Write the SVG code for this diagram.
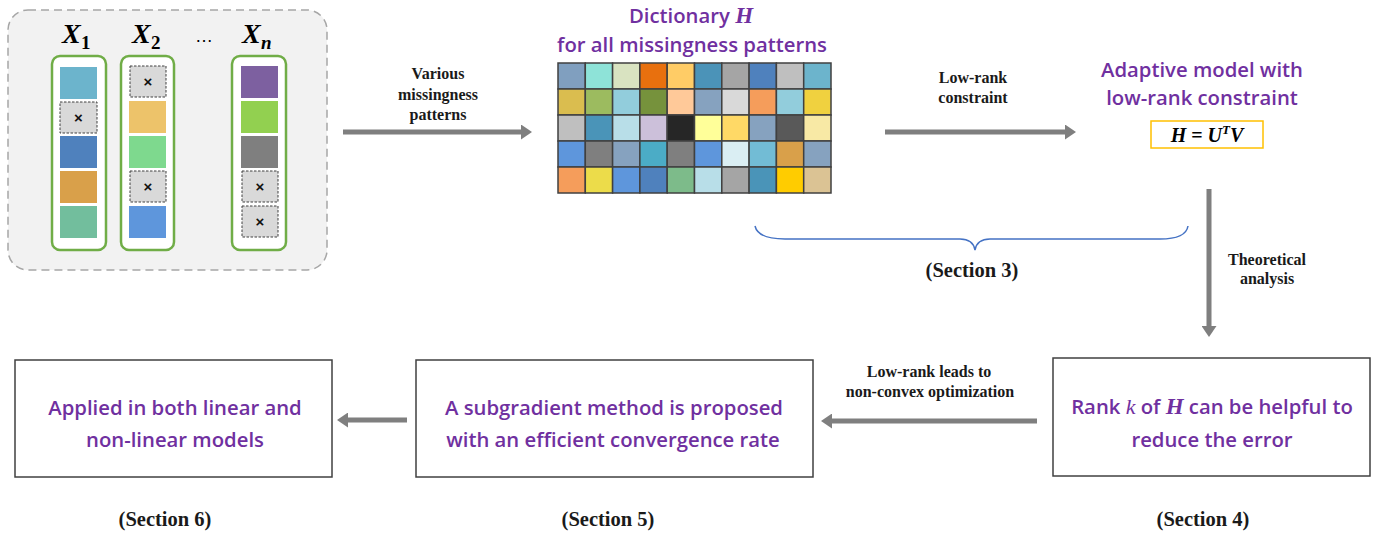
<svg xmlns="http://www.w3.org/2000/svg" width="1374" height="533" viewBox="0 0 1374 533">
<style>
.p{font-family:"Open Sans","Noto Sans",sans-serif;font-size:20.3px;font-weight:600;fill:#7030A0}
.lb{font-family:"Liberation Serif",serif;font-weight:bold;font-size:16px;fill:#1a1a1a}
.sec{font-family:"Liberation Serif",serif;font-weight:bold;font-size:20.5px;fill:#1a1a1a}
.m{font-family:"Liberation Serif",serif;font-weight:bold;font-style:italic}
.mi{font-family:"Liberation Serif",serif;font-style:italic;font-weight:normal}
.col{fill:#ffffff;stroke:#70AD47;stroke-width:2.5}
.miss{fill:#D9D9D9;stroke:#404040;stroke-width:1;stroke-dasharray:2.5,1.5}
.x{font-family:"Liberation Sans",sans-serif;font-size:15px;font-weight:bold;fill:#111;text-anchor:middle}
.c{stroke:#404040;stroke-width:1.5}
.box{fill:#ffffff;stroke:#404040;stroke-width:1.5}
.arr{stroke:#7F7F7F;stroke-width:5;fill:none}
</style>
<defs>
<marker id="ah" markerUnits="userSpaceOnUse" viewBox="0 0 11 15" refX="1" refY="7.5" markerWidth="11" markerHeight="15" orient="auto">
<path d="M0,0 L11,7.5 L0,15 z" fill="#7F7F7F"/>
</marker>
</defs>
<rect width="1374" height="533" fill="#ffffff"/>

<g id="input-panel">
<rect x="8" y="10" width="319" height="260" rx="20" fill="#F2F2F2" stroke="#A6A6A6" stroke-width="1.5" stroke-dasharray="8,5"/>
<text x="62" y="43" class="m" font-size="28">X</text><text x="81" y="49" font-family="Liberation Serif" font-weight="bold" font-size="19">1</text>
<text x="132" y="43" class="m" font-size="28">X</text><text x="151" y="49" font-family="Liberation Serif" font-weight="bold" font-size="19">2</text>
<text x="204" y="42" font-family="Liberation Sans" font-size="18" text-anchor="middle">…</text>
<text x="242" y="43" class="m" font-size="28">X</text><text x="261" y="49" class="m" font-size="19">n</text>
<rect class="col" x="52" y="56" width="54" height="194" rx="8"/>
<rect x="60" y="67" width="37" height="32" fill="#6CB4CC"/>
<rect class="miss" x="60" y="102" width="37" height="31"/><text class="x" x="78.5" y="123">×</text>
<rect x="60" y="136" width="37" height="32" fill="#4F81BD"/>
<rect x="60" y="171" width="37" height="32" fill="#D9A04A"/>
<rect x="60" y="206" width="37" height="32" fill="#72BE9D"/>
<rect class="col" x="121" y="56" width="53" height="194" rx="8"/>
<rect class="miss" x="130" y="66" width="36" height="31"/><text class="x" x="148" y="87">×</text>
<rect x="129" y="101" width="37" height="32" fill="#EDC36A"/>
<rect x="129" y="136" width="37" height="32" fill="#7ED98E"/>
<rect class="miss" x="130" y="171" width="36" height="31"/><text class="x" x="148" y="192">×</text>
<rect x="129" y="206" width="37" height="32" fill="#5E96DC"/>
<rect class="col" x="232" y="56" width="54" height="194" rx="8"/>
<rect x="241" y="66" width="37" height="32" fill="#7D60A0"/>
<rect x="241" y="101" width="37" height="32" fill="#92D050"/>
<rect x="241" y="136" width="37" height="32" fill="#7F7F7F"/>
<rect class="miss" x="242" y="171" width="36" height="31"/><text class="x" x="260" y="192">×</text>
<rect class="miss" x="242" y="206" width="36" height="31"/><text class="x" x="260" y="227">×</text>
</g>

<g id="dictionary">
<text class="p" x="691" y="23" text-anchor="middle">Dictionary <tspan class="m" font-size="23">H</tspan></text>
<text class="p" x="692" y="52" text-anchor="middle">for all missingness patterns</text>
<g class="c">
<rect x="558" y="63" width="27.3" height="26" fill="#809FBF"/>
<rect x="585.3" y="63" width="27.3" height="26" fill="#8EE3D8"/>
<rect x="612.6" y="63" width="27.3" height="26" fill="#D9E3C1"/>
<rect x="639.9" y="63" width="27.3" height="26" fill="#E8700E"/>
<rect x="667.2" y="63" width="27.3" height="26" fill="#FFCC66"/>
<rect x="694.5" y="63" width="27.3" height="26" fill="#4B93B8"/>
<rect x="721.8" y="63" width="27.3" height="26" fill="#A5A5A5"/>
<rect x="749.1" y="63" width="27.3" height="26" fill="#4F81BD"/>
<rect x="776.4" y="63" width="27.3" height="26" fill="#BFBFBF"/>
<rect x="803.7" y="63" width="27.3" height="26" fill="#6CB4CC"/>
<rect x="558" y="89" width="27.3" height="26" fill="#DABD4F"/>
<rect x="585.3" y="89" width="27.3" height="26" fill="#9CBB5F"/>
<rect x="612.6" y="89" width="27.3" height="26" fill="#92CDDC"/>
<rect x="639.9" y="89" width="27.3" height="26" fill="#76923C"/>
<rect x="667.2" y="89" width="27.3" height="26" fill="#FFC999"/>
<rect x="694.5" y="89" width="27.3" height="26" fill="#86A2BF"/>
<rect x="721.8" y="89" width="27.3" height="26" fill="#D9D9D9"/>
<rect x="749.1" y="89" width="27.3" height="26" fill="#F59D5B"/>
<rect x="776.4" y="89" width="27.3" height="26" fill="#92CDDC"/>
<rect x="803.7" y="89" width="27.3" height="26" fill="#F0D13F"/>
<rect x="558" y="115" width="27.3" height="26" fill="#BFBFBF"/>
<rect x="585.3" y="115" width="27.3" height="26" fill="#4A94B8"/>
<rect x="612.6" y="115" width="27.3" height="26" fill="#B8DEE8"/>
<rect x="639.9" y="115" width="27.3" height="26" fill="#CCC0DA"/>
<rect x="667.2" y="115" width="27.3" height="26" fill="#262626"/>
<rect x="694.5" y="115" width="27.3" height="26" fill="#FFFF99"/>
<rect x="721.8" y="115" width="27.3" height="26" fill="#FFD966"/>
<rect x="749.1" y="115" width="27.3" height="26" fill="#86A2BF"/>
<rect x="776.4" y="115" width="27.3" height="26" fill="#595959"/>
<rect x="803.7" y="115" width="27.3" height="26" fill="#F8E9A5"/>
<rect x="558" y="141" width="27.3" height="26" fill="#5E96DC"/>
<rect x="585.3" y="141" width="27.3" height="26" fill="#7F7F7F"/>
<rect x="612.6" y="141" width="27.3" height="26" fill="#86A2BF"/>
<rect x="639.9" y="141" width="27.3" height="26" fill="#4BACC6"/>
<rect x="667.2" y="141" width="27.3" height="26" fill="#7F7F7F"/>
<rect x="694.5" y="141" width="27.3" height="26" fill="#5E96DC"/>
<rect x="721.8" y="141" width="27.3" height="26" fill="#DAEEF3"/>
<rect x="749.1" y="141" width="27.3" height="26" fill="#72BCD5"/>
<rect x="776.4" y="141" width="27.3" height="26" fill="#D9A04A"/>
<rect x="803.7" y="141" width="27.3" height="26" fill="#86A2BF"/>
<rect x="558" y="167" width="27.3" height="26" fill="#F59D5B"/>
<rect x="585.3" y="167" width="27.3" height="26" fill="#ECDC4A"/>
<rect x="612.6" y="167" width="27.3" height="26" fill="#5E96DC"/>
<rect x="639.9" y="167" width="27.3" height="26" fill="#4F81BD"/>
<rect x="667.2" y="167" width="27.3" height="26" fill="#7DBB8A"/>
<rect x="694.5" y="167" width="27.3" height="26" fill="#B8DEE8"/>
<rect x="721.8" y="167" width="27.3" height="26" fill="#A5A5A5"/>
<rect x="749.1" y="167" width="27.3" height="26" fill="#4A94B8"/>
<rect x="776.4" y="167" width="27.3" height="26" fill="#FFCC00"/>
<rect x="803.7" y="167" width="27.3" height="26" fill="#DBC394"/>
</g>
</g>

<g id="adaptive-model">
<text class="p" x="1202" y="77" text-anchor="middle">Adaptive model with</text>
<text class="p" x="1202" y="105" text-anchor="middle">low-rank constraint</text>
<rect x="1151" y="121" width="112" height="27" fill="#ffffff" stroke="#FFC000" stroke-width="1.5"/>
<text x="1207" y="142" text-anchor="middle" font-size="20" fill="#000"><tspan class="m">H</tspan><tspan font-family="Liberation Serif" font-weight="bold"> = </tspan><tspan class="m">U</tspan><tspan class="m" font-size="13" dy="-8">T</tspan><tspan class="m" dy="8">V</tspan></text>
</g>

<g id="section3-brace">
<path d="M755,226 Q758,239 785,239 L960,239 Q973,239 975,250 Q977,239 990,239 L1160,239 Q1186,239 1188,226" fill="none" stroke="#4472C4" stroke-width="1.5"/>
<text class="sec" x="972" y="277" text-anchor="middle">(Section 3)</text>
</g>

<g id="rank-box">
<rect class="box" x="1053" y="358" width="317" height="118"/>
<text class="p" x="1212" y="414" text-anchor="middle">Rank <tspan class="mi" font-size="22">k</tspan> of <tspan class="m" font-size="23">H</tspan> can be helpful to</text>
<text class="p" x="1212" y="447" text-anchor="middle">reduce the error</text>
<text class="sec" x="1203" y="526" text-anchor="middle">(Section 4)</text>
</g>

<g id="subgradient-box">
<rect class="box" x="416" y="360" width="397" height="117"/>
<text class="p" x="614" y="415" text-anchor="middle">A subgradient method is proposed</text>
<text class="p" x="613" y="447" text-anchor="middle">with an efficient convergence rate</text>
<text class="sec" x="608" y="526" text-anchor="middle">(Section 5)</text>
</g>

<g id="applied-box">
<rect class="box" x="15" y="360" width="317" height="117"/>
<text class="p" x="175" y="415" text-anchor="middle">Applied in both linear and</text>
<text class="p" x="175" y="447" text-anchor="middle">non-linear models</text>
<text class="sec" x="165" y="526" text-anchor="middle">(Section 6)</text>
</g>

<g id="connectors">
<line class="arr" x1="343" y1="132" x2="522" y2="132" marker-end="url(#ah)"/>
<line class="arr" x1="885" y1="132" x2="1066" y2="132" marker-end="url(#ah)"/>
<line class="arr" x1="1209" y1="189" x2="1209" y2="327" marker-end="url(#ah)"/>
<line class="arr" x1="1037" y1="421" x2="831" y2="421" marker-end="url(#ah)"/>
<line class="arr" x1="407" y1="420" x2="347" y2="420" marker-end="url(#ah)"/>
<text class="lb" x="438" y="79" text-anchor="middle">Various</text>
<text class="lb" x="438" y="100" text-anchor="middle">missingness</text>
<text class="lb" x="438" y="120" text-anchor="middle">patterns</text>
<text class="lb" x="973" y="83" text-anchor="middle">Low-rank</text>
<text class="lb" x="973" y="103" text-anchor="middle">constraint</text>
<text class="lb" x="1267" y="265" text-anchor="middle">Theoretical</text>
<text class="lb" x="1267" y="284" text-anchor="middle">analysis</text>
<text class="lb" x="929" y="377" text-anchor="middle">Low-rank leads to</text>
<text class="lb" x="930" y="397" text-anchor="middle">non-convex optimization</text>
</g>
</svg>
